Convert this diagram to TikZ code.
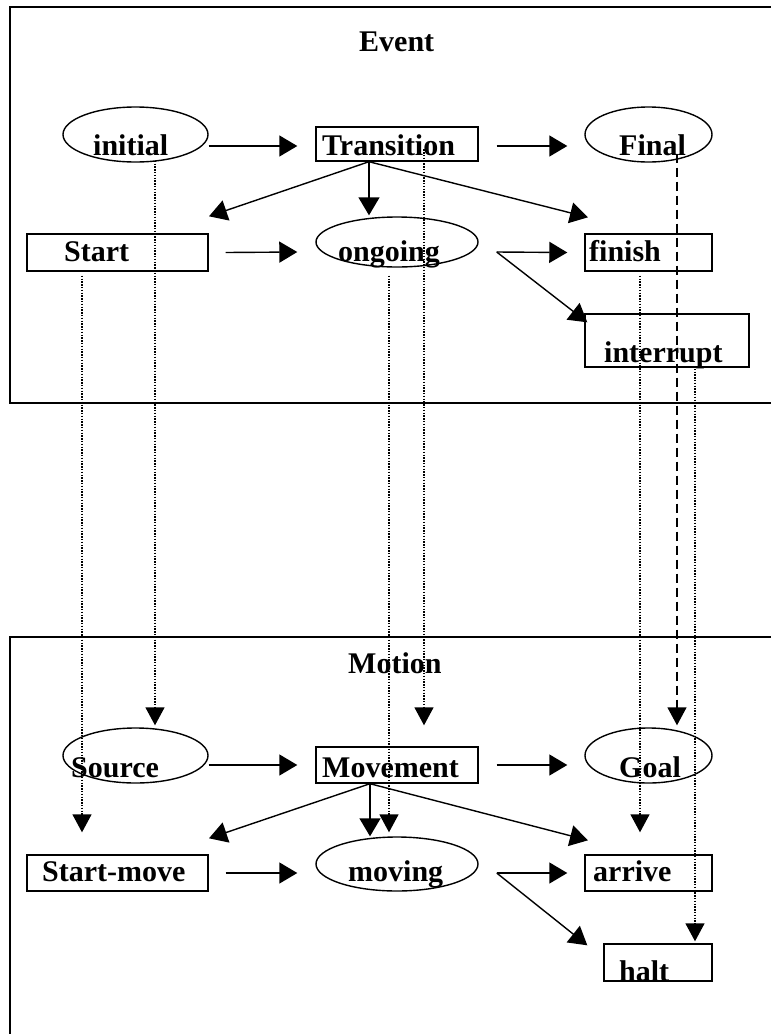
\documentclass[tikz,border=0pt]{standalone}
\usepackage{fontspec}
\setmainfont{Liberation Serif}
\usetikzlibrary{arrows.meta,shapes.geometric,calc}
\begin{document}
\begin{tikzpicture}[x=1pt,y=-1pt,
  frame/.style={line width=2.2pt},
  ell/.style={draw,ellipse,line width=1.4pt,inner sep=0pt},
  box/.style={draw,rectangle,line width=1.4pt,inner sep=0pt},
  lbl/.style={anchor=base west,inner sep=0pt,font=\fontsize{30}{36}\selectfont\bfseries},
  arr/.style={line width=1.4pt,-{Triangle[length=18pt,width=21pt]}},
  dotarr/.style={line width=1.5pt,dash pattern=on 1.4pt off 1.4pt,-{Triangle[length=18pt,width=19pt]}},
  dasharr/.style={line width=1.5pt,dash pattern=on 9pt off 5pt,-{Triangle[length=18pt,width=19pt]}}]
\useasboundingbox (0,0) rectangle (771,1034);

% frames
\draw[frame] (771,7) -- (10,7) -- (10,403) -- (771,403);
\draw[frame] (771,637) -- (10,637) -- (10,1034);

% Event shapes
\node[ell,minimum width=145pt,minimum height=55pt] (ini) at (135.5,134.5) {};
\node[box,minimum width=162pt,minimum height=34pt] (trans) at (397,144) {};
\node[ell,minimum width=127pt,minimum height=55pt] (fin) at (648.5,134.5) {};
\node[box,minimum width=181pt,minimum height=37pt] (start) at (117.5,252.5) {};
\node[ell,minimum width=162pt,minimum height=50pt] (ong) at (397,242) {};
\node[box,minimum width=127pt,minimum height=37pt] (finish) at (648.5,252.5) {};
\node[box,minimum width=164pt,minimum height=53pt] (intr) at (667,340.5) {};

% Event labels
\node[lbl] (tEvent) at (359,51) {Event};
\node[lbl] (tini) at (93,155) {initial};
\node[lbl] (ttrans) at (322,155) {Transition};
\node[lbl] (tfin) at (619,155) {Final};
\node[lbl] (tstart) at (64,261) {Start};
\node[lbl] (tong) at (338,261) {ongoing};
\node[lbl] (tfinish) at (589,261) {finish};
\node[lbl] (tintr) at (604,362) {interrupt};

% Motion shapes
\node[ell,minimum width=145pt,minimum height=55pt] (src) at (135.5,755.5) {};
\node[box,minimum width=162pt,minimum height=36pt] (mov) at (397,765) {};
\node[ell,minimum width=127pt,minimum height=55pt] (goal) at (648.5,755.5) {};
\node[box,minimum width=181pt,minimum height=36pt] (smove) at (117.5,873) {};
\node[ell,minimum width=162pt,minimum height=54pt] (moving) at (397,864) {};
\node[box,minimum width=127pt,minimum height=36pt] (arrive) at (648.5,873) {};
\node[box,minimum width=108pt,minimum height=37pt] (halt) at (658,962.5) {};

% Motion labels
\node[lbl] (tMotion) at (348,673) {Motion};
\node[lbl] (tsrc) at (71,777) {Source};
\node[lbl] (tmov) at (322,777) {Movement};
\node[lbl] (tgoal) at (619,777) {Goal};
\node[lbl] (tsmove) at (42,881) {Start-move};
\node[lbl] (tmoving) at (348,881) {moving};
\node[lbl] (tarrive) at (593,881) {arrive};
\node[lbl] (thalt) at (619,981) {halt};

% Event arrows
\draw[arr] ($(ini.east)+(0,11.5)$) -- ($(trans.west)+(-18,2)$);
\draw[arr] ($(trans.east)+(18,2)$) -- ($(fin.west)+(-17,11.5)$);
\draw[arr] ($(trans.south)+(-28,0)$) -- ($(start.north)+(91.5,-17)$);
\draw[arr] ($(trans.south)+(-28,0)$) -- ($(ong.north)+(-28,-1)$);
\draw[arr] ($(trans.south)+(-28,0)$) -- ($(finish.north)+(-60.5,-16)$);
\draw[arr] ($(start.east)+(17,0)$) -- ($(ong.west)+(-18,10)$);
\draw[arr] ($(ong.east)+(18,10)$) -- ($(finish.west)+(-17,0)$);
\draw[arr] ($(ong.east)+(18,10)$) -- ($(intr.north west)+(3,9)$);

% Motion arrows
\draw[arr] ($(src.east)+(0,9.5)$) -- ($(mov.west)+(-18,0)$);
\draw[arr] ($(mov.east)+(18,0)$) -- ($(goal.west)+(-17,9.5)$);
\draw[arr] ($(mov.south)+(-27,0)$) -- ($(smove.north)+(91.5,-16)$);
\draw[arr] ($(mov.south)+(-27,0)$) -- ($(moving.north)+(-27,0)$);
\draw[arr] ($(mov.south)+(-27,0)$) -- ($(arrive.north)+(-60.5,-14)$);
\draw[arr] ($(smove.east)+(17,0)$) -- ($(moving.west)+(-18,9)$);
\draw[arr] ($(moving.east)+(18,9)$) -- ($(arrive.west)+(-17,0)$);
\draw[arr] ($(moving.east)+(18,9)$) -- ($(halt.north west)+(-16,2)$);

% mappings between the two levels
\draw[dotarr] ($(start.south)+(-35.5,4)$) -- ($(smove.north)+(-35.5,-22)$);
\draw[dotarr] ($(ini.south)+(19.5,-2)$) -- ($(src.north)+(19.5,-2)$);
\draw[dotarr] ($(ong.south)+(-8,8)$) -- ($(moving.north)+(-8,-4)$);
\draw[dotarr] ($(trans.north)+(27,23)$) -- ($(mov.north)+(27,-21)$);
\draw[dotarr] ($(finish.south)+(-8.5,4)$) -- ($(arrive.north)+(-8.5,-22)$);
\draw[dasharr] ($(fin.south)+(28.5,-9)$) -- ($(goal.north)+(28.5,-2)$);
\draw[dotarr] ($(intr.south)+(28,1)$) -- ($(halt.north)+(37,-2)$);
\end{tikzpicture}
\end{document}
